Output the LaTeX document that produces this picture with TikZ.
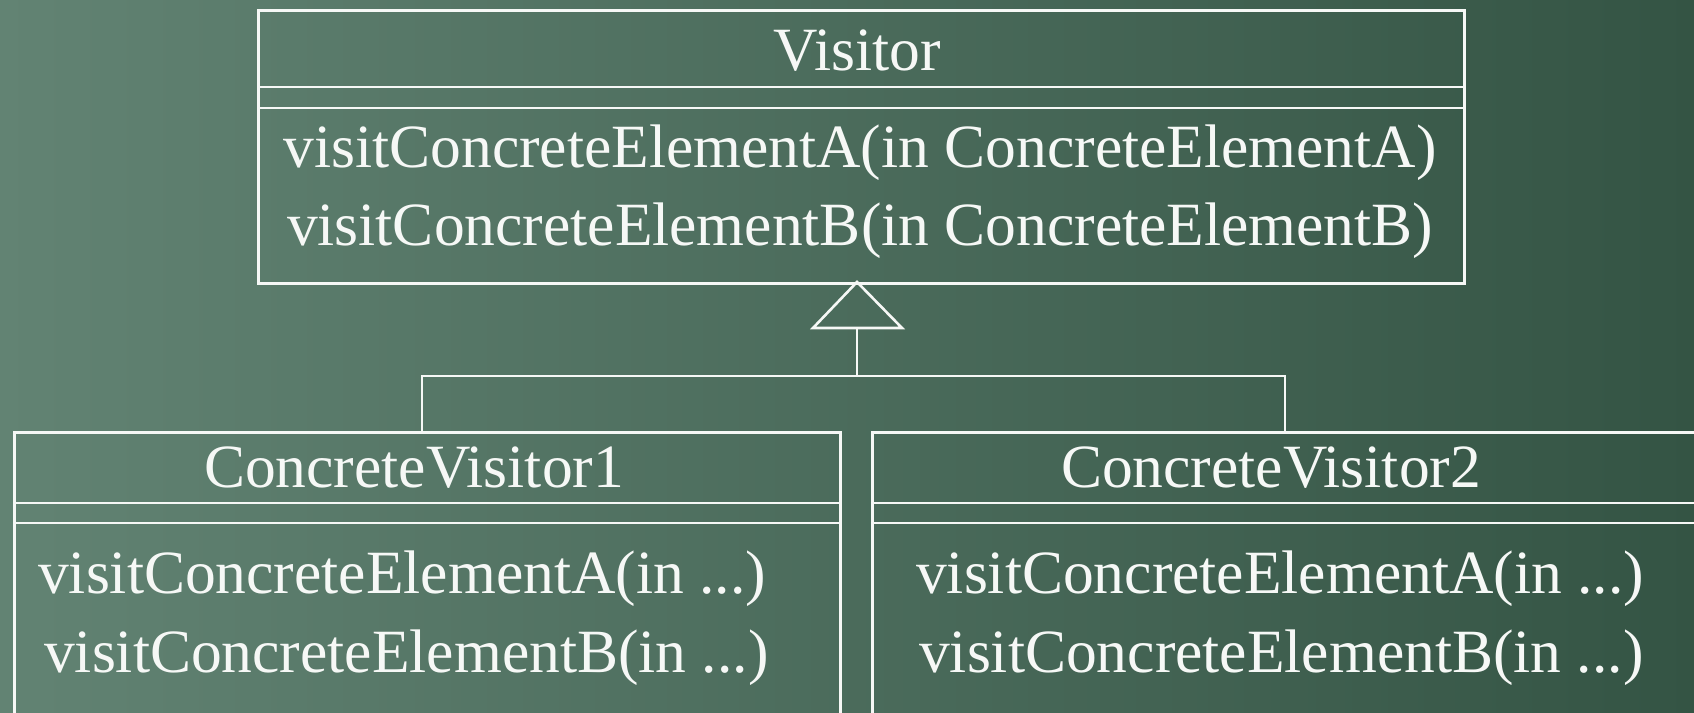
\documentclass[tikz,border=0pt]{standalone}
\usepackage{fontspec}
\setmainfont{Liberation Serif}
\begin{document}
\begin{tikzpicture}[x=1pt,y=-1pt,
  umlbox/.style={draw=chalk,line width=2.6pt,inner sep=0pt,anchor=north west},
  sepline/.style={draw=chalk,line width=2.6pt},
  conn/.style={draw=chalk,line width=2.6pt},
  txt/.style={text=chalk,inner sep=0pt,font=\fontsize{61.5}{78}\selectfont}]
\definecolor{chalk}{RGB}{246,248,246}
\definecolor{bgleft}{RGB}{98,131,115}
\definecolor{bgright}{RGB}{52,84,68}
\useasboundingbox (0,0) rectangle (1694,712);
\shade[left color=bgleft,right color=bgright] (0,0) rectangle (1694,712);
% Visitor
\node[umlbox,minimum width=1206pt,minimum height=273pt] (vis) at (257,9) {};
\draw[sepline] (257,87) -- (1463,87);
\draw[sepline] (257,108) -- (1463,108);
\node[txt,anchor=base] (vist) at (857,70) {Visitor};
\node[txt,anchor=base] (vism1) at (860,167) {visitConcreteElementA(in ConcreteElementA)};
\node[txt,anchor=base] (vism2) at (860,245) {visitConcreteElementB(in ConcreteElementB)};
% ConcreteVisitor1
\node[umlbox,minimum width=826pt,minimum height=320pt] (cv1) at (13,431) {};
\draw[sepline] (13,503) -- (839,503);
\draw[sepline] (13,523) -- (839,523);
\node[txt,anchor=base] (cv1t) at (414,487) {ConcreteVisitor1};
\node[txt,anchor=base west] (cv1m1) at (38,593) {visitConcreteElementA(in ...)};
\node[txt,anchor=base west] (cv1m2) at (44,672) {visitConcreteElementB(in ...)};
% ConcreteVisitor2
\node[umlbox,minimum width=826pt,minimum height=320pt] (cv2) at (871,431) {};
\draw[sepline] (871,503) -- (1697,503);
\draw[sepline] (871,523) -- (1697,523);
\node[txt,anchor=base] (cv2t) at (1271,487) {ConcreteVisitor2};
\node[txt,anchor=base west] (cv2m1) at (916,593) {visitConcreteElementA(in ...)};
\node[txt,anchor=base west] (cv2m2) at (919,672) {visitConcreteElementB(in ...)};
% generalization
\coordinate (apex) at (857,282);
\coordinate (tribase) at (857,328);
\coordinate (junc) at (857,376);
\coordinate (v1x) at (422,376);
\coordinate (v2x) at (1285,376);
\draw[conn,line join=miter] (apex) -- (813,328) -- (902,328) -- cycle;
\draw[conn] (tribase) -- (junc);
\draw[conn] (v1x |- cv1.north) -- (v1x) -- (v2x) -- (v2x |- cv2.north);
\end{tikzpicture}
\end{document}
